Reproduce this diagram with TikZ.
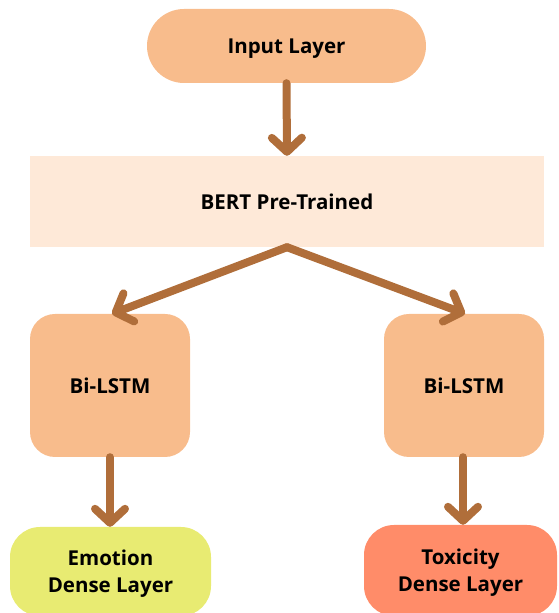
\documentclass[tikz,border=0pt]{standalone}
\usepackage{fontspec}
\setmainfont{Open Sans}
\usetikzlibrary{arrows.meta}
\definecolor{peach}{HTML}{F8BC8C}
\definecolor{bertbg}{HTML}{FEE9D8}
\definecolor{emocol}{HTML}{E8EB72}
\definecolor{toxcol}{HTML}{FF8C69}
\definecolor{arrowcol}{HTML}{B06E3A}
\tikzset{
  lbl/.style={font=\fontsize{20.5}{27}\selectfont\bfseries, text=black, align=center, inner sep=0pt, text depth=0pt},
  box/.style={lbl, draw=none, rectangle},
  conn/.style={draw=arrowcol, line width=8pt, line cap=round,
    -{Straight Barb[length=14pt, width=30pt, round]}},
}
\begin{document}
\begin{tikzpicture}[x=1pt,y=1pt]
\useasboundingbox (0,0) rectangle (558,613);
\clip (0,0) rectangle (558,613);
\node[box, fill=peach, minimum width=279pt, minimum height=74pt, rounded corners=37pt] (input) at (286.5,567) {Input Layer};
\node[box, fill=bertbg, minimum width=514pt, minimum height=91pt] (bert) at (287,411.5) {BERT Pre-Trained};
\node[box, fill=peach, minimum width=160pt, minimum height=143pt, rounded corners=25pt] (lstmA) at (110,227.5) {Bi-LSTM};
\node[box, fill=peach, minimum width=160pt, minimum height=143pt, rounded corners=25pt] (lstmB) at (464,227.5) {Bi-LSTM};
\node[box, fill=emocol, minimum width=201pt, minimum height=89pt, rounded corners=30pt] (emo) at (110.5,41.5) {Emotion\\Dense Layer};
\node[box, fill=toxcol, minimum width=193pt, minimum height=91pt, rounded corners=30pt] (tox) at (460.5,42.5) {Toxicity\\Dense Layer};
\draw[conn] (input.south) -- (bert.north);
\draw[conn] (bert.south) -- ([xshift=2pt]lstmA.north);
\draw[conn] (bert.south) -- ([xshift=1pt]lstmB.north);
\draw[conn] (lstmA.south) -- (lstmA.south |- emo.north);
\draw[conn] ([xshift=-1pt]lstmB.south) -- ([xshift=-1pt]lstmB.south |- tox.north);
\end{tikzpicture}
\end{document}
